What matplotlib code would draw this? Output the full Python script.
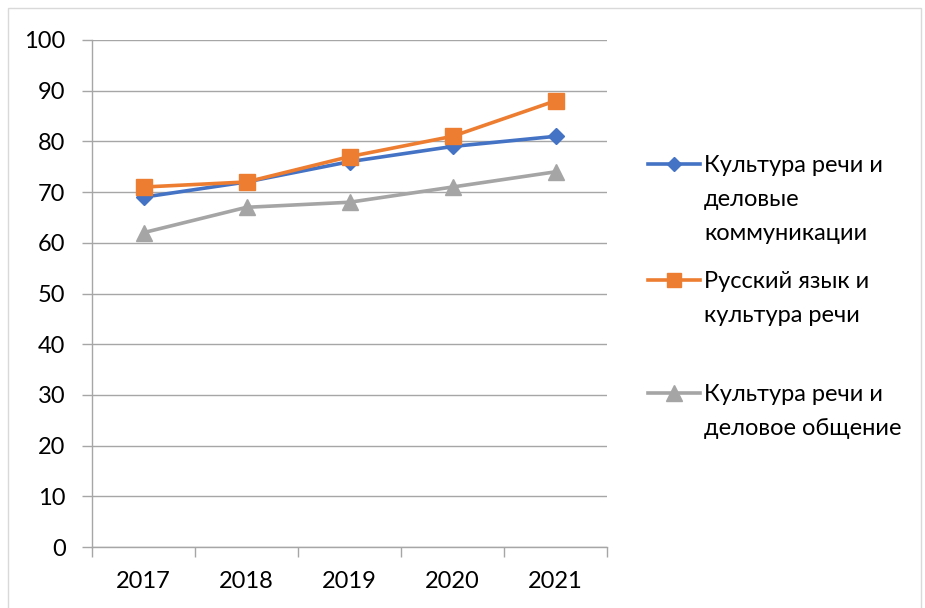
import matplotlib.pyplot as plt
from matplotlib.lines import Line2D
from matplotlib.patches import Rectangle

years = ['2017', '2018', '2019', '2020', '2021']
kultura_delovye = [69, 72, 76, 79, 81]
russkiy_yazyk = [71, 72, 77, 81, 88]
kultura_obshenie = [62, 67, 68, 71, 74]

labels = [['Культура речи и', 'деловые', 'коммуникации'],
          ['Русский язык и', 'культура речи'],
          ['Культура речи и', 'деловое общение']]
colors = ['#4472C4', '#ED7D31', '#A5A5A5']
markers = ['D', 's', '^']
msizes = [8, 11, 12]

plt.rcParams['font.family'] = ['Lato', 'DejaVu Sans']
fs = 17
grid_c = '#A6A6A6'

fig = plt.figure(figsize=(9.25, 6.08), dpi=100)
ax = fig.add_axes([92/925, 1-547/608, (607-92)/925, (547-40)/608])

x = list(range(len(years)))
series = [kultura_delovye, russkiy_yazyk, kultura_obshenie]
for ys, c, m, s in zip(series, colors, markers, msizes):
    ax.plot(x, ys, color=c, lw=2.6, marker=m, markersize=s,
            markerfacecolor=c, markeredgecolor=c, zorder=3)

ax.set_xlim(-0.5, len(years)-0.5)
ax.set_ylim(0, 100)
ax.set_yticks(range(0, 101, 10))
ax.set_xticks(x)
ax.set_xticklabels(years)
ax.set_xticks([i-0.5 for i in range(len(years)+1)], minor=True)
ax.tick_params(axis='x', which='major', length=0, pad=17, labelsize=fs)
ax.tick_params(axis='x', which='minor', length=7, color=grid_c, width=1)
ax.tick_params(axis='y', length=7, color=grid_c, width=1, pad=12, labelsize=fs)
ax.grid(axis='y', color=grid_c, lw=1)
ax.set_axisbelow(True)
for sp in ['top', 'right']:
    ax.spines[sp].set_visible(False)
for sp in ['left', 'bottom']:
    ax.spines[sp].set_color(grid_c)
    ax.spines[sp].set_linewidth(1)

# legend: one block per series, marker next to the first line
tops = [1-155/608, 1-271/608, 1-384/608]
for lab, c, m, s, t in zip(labels, colors, markers, msizes, tops):
    hs = [Line2D([], [], color=c, lw=2.6, marker=m, markersize=s-1)]
    hs += [Line2D([], [], color='none') for _ in lab[1:]]
    leg = fig.legend(hs, lab, loc='upper left', bbox_to_anchor=(648/925, t),
                     frameon=False, fontsize=fs, borderpad=0, borderaxespad=0,
                     handlelength=2.2, handletextpad=0.18, labelspacing=0.55)

fig.add_artist(Rectangle((8/925, -0.02), 913/925, 1.02-8/608,
                         transform=fig.transFigure, fill=False,
                         edgecolor='#D9D9D9', lw=1))

plt.savefig('out.png', dpi=100)
